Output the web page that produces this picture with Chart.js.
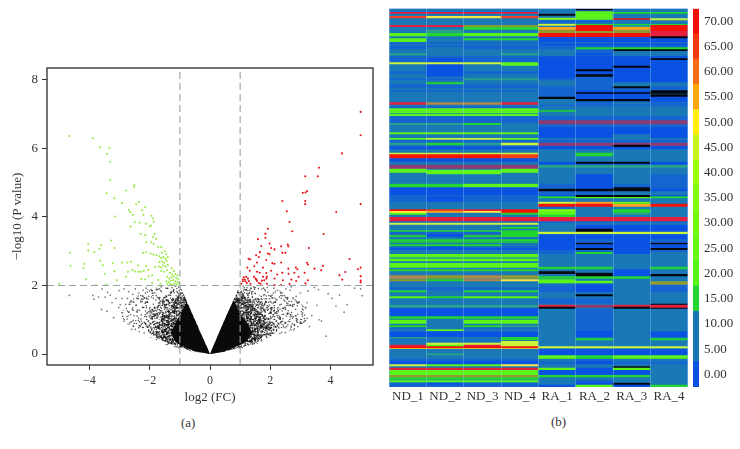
<!DOCTYPE html>
<html><head><meta charset="utf-8">
<script src="https://cdn.jsdelivr.net/npm/chart.js@4/dist/chart.umd.min.js"></script>
<style>
html,body{margin:0;padding:0;background:#fff;width:740px;height:449px;overflow:hidden}
canvas{position:absolute;filter:blur(.45px)}
.cap{position:absolute;font:13px "Liberation Serif",serif;color:#333}
</style></head><body>
<canvas id="volcano" width="380" height="405" style="left:0;top:0"></canvas>
<canvas id="heat" width="308" height="405" style="left:380px;top:0"></canvas>
<canvas id="bar" width="52" height="405" style="left:688px;top:0"></canvas>
<div class="cap" style="left:181px;top:415px">(a)</div>
<div class="cap" style="left:551px;top:414px">(b)</div>
<script>
// ---------- panel (a) volcano ----------
const xLabel = 'log2 (FC)';
const yLabel = '\u2212log10 (P value)';
const cutX = [-1, 1];
const cutY = 2;
const greenPoints = [[-4.67,6.36],[-3.89,6.29],[-3.65,6.03],[-3.34,6.0],[-3.42,5.84],[-3.32,5.61],[-3.31,5.07],[-3.43,4.69],[-3.17,4.54],[-2.79,4.77],[-2.51,4.92],[-2.52,4.87],[-2.92,4.4],[-3.15,4.01],[-2.36,4.43],[-2.45,4.37],[-2.7,4.2],[-2.65,4.14],[-2.56,4.06],[-2.25,4.19],[-2.21,4.06],[-2.15,4.28],[-1.94,4.03],[-1.89,3.95],[-1.87,3.86],[-1.95,3.75],[-2.01,3.72],[-2.64,3.72],[-2.5,3.85],[-2.34,3.83],[-2.12,3.8],[-2.3,3.5],[-2.15,3.46],[-1.89,3.41],[-1.84,3.5],[-1.79,3.36],[-1.95,3.26],[-1.87,3.21],[-2.12,3.26],[-1.73,3.12],[-3.28,3.31],[-3.17,3.09],[-4.04,3.2],[-4.04,3.02],[-3.84,2.97],[-3.67,3.07],[-3.61,3.17],[-4.65,2.95],[-4.17,2.63],[-4.2,2.51],[-4.63,2.57],[-4.12,2.18],[-3.78,2.01],[-3.45,2.03],[-5.0,2.05],[-3.64,2.72],[-3.56,2.59],[-3.23,2.65],[-3.17,2.41],[-3.5,2.34],[-2.92,2.67],[-2.74,2.67],[-3.09,2.15],[-2.79,2.25],[-2.72,2.4],[-2.62,2.69],[-2.58,2.45],[-2.5,2.41],[-2.38,2.58],[-2.38,2.4],[-2.3,2.4],[-2.2,2.42],[-2.12,2.57],[-2.05,2.45],[-2.28,2.19],[-2.15,2.17],[-2.04,2.27],[-1.92,2.3],[-1.82,2.54],[-1.92,2.07],[-2.22,2.95],[-2.12,2.97],[-1.97,2.93],[-1.88,2.9],[-1.78,2.88],[-1.62,3.12],[-1.6,2.95],[-1.5,3.0],[-1.45,2.92],[-1.68,2.85],[-1.62,2.8],[-1.55,2.83],[-1.48,2.78],[-1.4,2.82],[-1.68,2.68],[-1.6,2.7],[-1.52,2.66],[-1.44,2.72],[-1.7,2.55],[-1.62,2.52],[-1.55,2.58],[-1.47,2.55],[-1.4,2.6],[-1.62,2.42],[-1.52,2.4],[-1.42,2.44],[-1.27,2.5],[-1.2,2.42],[-1.32,2.37],[-1.25,2.32],[-1.15,2.33],[-1.08,2.3],[-1.42,2.25],[-1.35,2.2],[-1.28,2.24],[-1.2,2.26],[-1.12,2.22],[-1.05,2.18],[-1.45,2.12],[-1.38,2.1],[-1.3,2.14],[-1.22,2.16],[-1.15,2.12],[-1.08,2.1],[-1.42,2.03],[-1.33,2.05],[-1.26,2.02],[-1.18,2.05],[-1.1,2.03],[-1.03,2.06],[-1.65,2.05],[-1.72,2.16]];
const redPoints = [[5.0,7.06],[5.0,6.38],[4.38,5.85],[3.62,5.43],[3.58,5.18],[3.16,5.18],[3.22,4.75],[3.17,4.71],[3.08,4.7],[3.16,4.46],[3.16,4.37],[2.4,4.46],[5.0,4.37],[2.55,4.16],[4.19,4.14],[2.64,3.85],[2.73,3.58],[1.92,3.65],[1.84,3.51],[1.84,3.39],[3.77,3.5],[1.59,3.35],[1.98,3.22],[1.7,3.15],[2.03,3.09],[2.14,3.05],[2.36,3.14],[2.58,3.19],[2.6,3.14],[3.28,3.09],[1.66,2.97],[1.53,2.88],[1.62,2.83],[1.92,2.93],[1.98,2.91],[2.4,2.95],[2.5,2.95],[1.28,2.78],[1.33,2.76],[1.56,2.67],[1.87,2.74],[2.36,2.67],[2.07,2.65],[2.14,2.63],[3.22,2.66],[3.25,2.61],[4.63,2.77],[3.75,2.57],[3.47,2.49],[3.69,2.44],[1.47,2.56],[1.24,2.52],[1.76,2.52],[1.32,2.43],[1.56,2.4],[1.65,2.37],[2.03,2.43],[1.87,2.36],[2.6,2.49],[2.85,2.52],[2.9,2.47],[2.8,2.37],[2.61,2.34],[2.4,2.37],[2.23,2.32],[3.14,2.37],[2.94,2.25],[2.14,2.2],[2.42,2.15],[2.7,2.17],[2.86,2.13],[3.25,2.15],[3.17,2.06],[2.64,2.04],[2.14,2.01],[2.36,2.01],[4.3,2.3],[4.49,2.39],[4.39,2.17],[4.91,2.47],[5.0,2.52],[5.0,2.27],[5.0,2.14],[5.0,2.09],[1.09,2.12],[1.15,2.17],[1.2,2.25],[1.26,2.2],[1.29,2.13],[1.22,2.07],[1.09,2.17],[1.18,2.12],[1.51,2.2],[1.56,2.13],[1.62,2.07],[1.68,2.05],[1.8,2.15],[1.87,2.2],[1.76,2.25],[1.89,2.25],[1.54,2.17],[1.46,2.25],[1.04,2.05],[1.89,2.05],[1.72,2.14],[1.34,2.05],[1.12,2.24]];
const grayPoints = [[-4.67,1.71],[-3.89,1.71],[-3.85,1.6],[-3.58,1.9],[-3.4,1.8],[-3.6,1.3],[-3.42,1.25],[-3.2,1.06],[-3.48,1.66],[-3.31,1.72],[-3.12,1.62],[-3.02,1.85],[-2.92,1.62],[-2.85,1.9],[-2.7,1.82],[-2.62,1.55],[-2.56,1.74],[-2.48,1.9],[-2.36,1.78],[-2.3,1.55],[-2.22,1.86],[-2.12,1.92],[-2.58,1.3],[-2.9,1.2],[-3.03,1.36],[-2.75,1.02],[-2.7,1.22],[-2.65,.92],[-2.52,1.12],[-2.46,1.42],[-2.4,1.28],[-2.38,.98],[-2.33,.8],[-2.28,1.14],[-2.24,1.36],[-2.14,1.5],[-2.04,1.68],[-1.92,1.78],[-1.78,1.88],[-1.68,1.9],[-1.62,1.96],[-1.46,1.92],[-1.26,1.94],[-1.14,1.98],[-1.04,1.96],[-2.0,1.84],[-2.3,1.02],[-2.55,.98],[-2.42,1.64],[-2.6,.72],[-2.85,.96],[-3.25,1.5],[-2.98,1.44],[-2.8,1.45],[-3.7,1.66],[-2.74,1.62],[-2.1,1.62],[-2.23,1.6],[1.1,1.98],[1.36,1.92],[1.5,1.94],[1.78,1.92],[2.0,.6],[2.04,1.5],[2.06,1.72],[2.22,1.58],[2.24,1.86],[2.32,1.44],[2.4,1.7],[2.44,1.32],[2.48,1.54],[2.5,.62],[2.52,1.9],[2.54,.8],[2.56,1.18],[2.6,.95],[2.64,1.42],[2.68,.72],[2.72,1.1],[2.76,1.62],[2.8,.86],[2.84,1.3],[2.9,1.0],[2.95,1.52],[3.0,1.78],[3.05,1.16],[3.12,.94],[3.18,1.36],[3.25,1.84],[3.3,.8],[3.38,1.12],[3.46,1.94],[3.55,1.42],[3.62,1.0],[3.7,.96],[3.85,.52],[3.92,1.76],[4.05,1.62],[4.18,1.4],[4.3,1.72],[4.45,1.22],[4.55,1.44],[5.0,1.9],[5.05,1.7],[4.8,1.92],[3.6,1.88],[3.22,1.5],[2.66,1.86],[2.86,1.68],[2.7,1.96],[2.35,1.8],[2.12,1.92],[1.9,1.94],[2.5,1.34],[2.62,1.18],[2.74,1.4],[2.78,.7],[2.92,.8],[3.02,.9]];
// Density zones of the cloud (outlines): black core, heavy, dense, medium
const coreLeftTop = [[-1.3,.62],[-1.12,.95],[-.95,1.2],[-.78,1.52],[-.62,1.22],[-.35,.68],[0,0]];
const coreLeftBottom = [[-1.3,.62],[-1.15,.36],[-1.0,.26],[-.5,.08],[0,0]];
const coreRightTop = [[0,0],[.35,.72],[.62,1.26],[.78,1.56],[.98,1.2],[1.2,.95],[1.4,.62]];
const coreRightBottom = [[0,0],[.5,.08],[1.0,.26],[1.2,.36],[1.4,.62]];
const heavyLeftTop = [[-1.85,.72],[-1.55,1.1],[-1.25,1.45],[-1.0,1.8],[-.9,1.8],[-.5,1.0],[0,0]];
const heavyLeftBottom = [[-1.85,.72],[-1.55,.38],[-1.0,.2],[-.5,.07],[0,0]];
const heavyRightTop = [[0,0],[.5,1.02],[.9,1.82],[1.05,1.82],[1.35,1.45],[1.75,1.15],[2.05,.72]];
const heavyRightBottom = [[0,0],[.5,.07],[1.0,.2],[1.6,.38],[2.05,.72]];
const midLeftTop = [[-2.2,.9],[-1.9,1.35],[-1.55,1.65],[-1.2,1.9],[-.98,1.95],[-.5,1.0],[0,0]];
const midLeftBottom = [[-2.2,.9],[-2.0,.6],[-1.5,.32],[-1.0,.18],[-.5,.07],[0,0]];
const midRightTop = [[0,0],[.5,1.0],[.95,1.9],[1.25,1.92],[1.7,1.7],[2.1,1.35],[2.45,.95]];
const midRightBottom = [[0,0],[.5,.07],[1.0,.18],[1.5,.32],[2.1,.55],[2.45,.95]];
const outLeftTop = [[-3.0,1.15],[-2.6,1.6],[-2.1,1.88],[-1.4,2.0],[-1.0,2.0],[-.5,1.0],[0,0]];
const outLeftBottom = [[-3.0,1.15],[-2.6,.72],[-2.0,.5],[-1.5,.28],[-1.0,.15],[-.5,.05],[0,0]];
const outRightTop = [[0,0],[.5,1.0],[.98,2.0],[1.5,2.0],[2.3,1.85],[2.95,1.55],[3.4,1.1]];
const outRightBottom = [[0,0],[.5,.05],[1.0,.15],[1.5,.28],[2.1,.48],[2.8,.72],[3.4,1.1]];
const pt = p => ({x:p[0],y:p[1]});
// speckle texture standing in for the thousands of overlapping grey dots
function speckle(count,seed){
  const t=document.createElement('canvas');t.width=t.height=64;
  const c=t.getContext('2d');c.fillStyle='rgba(12,14,14,.72)';
  const h=v=>{const s=Math.sin(v)*43758.5453;return s-Math.floor(s);};
  for(let i=1;i<=count;i++){c.beginPath();c.arc(h((i+seed)*12.9898)*64,h((i+seed)*78.233)*64,.75,0,7);c.fill();}
  return c.createPattern(t,'repeat');
}
const frame = {id:'frame',afterDatasetsDraw(c){const a=c.chartArea,x=c.ctx;x.save();x.strokeStyle='#3a3a3a';x.lineWidth=1.4;x.strokeRect(a.left,a.top,a.right-a.left,a.bottom-a.top);x.restore();}};
const area = (top,bot,col,order) => [
  {data:top.map(pt),showLine:true,pointRadius:0,borderWidth:0,backgroundColor:col,fill:'+1',order},
  {data:bot.map(pt),showLine:true,pointRadius:0,borderWidth:0,backgroundColor:col,fill:false,order}];
const dash = (data) => ({data,showLine:true,pointRadius:0,borderColor:'#9aa2a2',borderWidth:1.1,borderDash:[7,4],fill:false,order:0});
const serif = '"Liberation Serif",serif';
Chart.defaults.animation = false;
Chart.defaults.devicePixelRatio = 1;
const medium=speckle(420,1), dense=speckle(1000,500), heavy=speckle(1900,2000);
new Chart(document.getElementById('volcano'),{
  type:'scatter',
  data:{datasets:[
    dash([{x:cutX[0],y:-.32},{x:cutX[0],y:8.34}]),
    dash([{x:cutX[1],y:-.32},{x:cutX[1],y:8.34}]),
    dash([{x:-5.41,y:cutY},{x:5.41,y:cutY}]),
    {data:greenPoints.map(pt),pointRadius:1,pointBorderWidth:0,backgroundColor:'#93e83c',order:1},
    {data:redPoints.map(pt),pointRadius:1.05,pointBorderWidth:0,backgroundColor:'#e8141c',order:1},
    {data:grayPoints.map(pt),pointRadius:.85,pointBorderWidth:0,backgroundColor:'rgba(30,40,40,.62)',order:2},
    ...area(coreLeftTop,coreLeftBottom,'#0a0a0a',3),
    ...area(coreRightTop,coreRightBottom,'#0a0a0a',3),
    ...area(heavyLeftTop,heavyLeftBottom,heavy,4),
    ...area(heavyRightTop,heavyRightBottom,heavy,4),
    ...area(midLeftTop,midLeftBottom,dense,5),
    ...area(midRightTop,midRightBottom,dense,5),
    ...area(outLeftTop,outLeftBottom,medium,6),
    ...area(outRightTop,outRightBottom,medium,6)
  ]},
  options:{responsive:false,layout:{padding:{top:68,right:7,bottom:0,left:0}},
    plugins:{legend:{display:false},tooltip:{enabled:false}},
    scales:{
      x:{type:'linear',min:-5.41,max:5.41,afterFit:s=>{s.height=40;},
        afterBuildTicks:s=>{s.ticks=[-4,-2,0,2,4].map(v=>({value:v}));},
        grid:{drawOnChartArea:false,tickLength:5,color:'#333'},border:{display:false},
        ticks:{padding:4,maxRotation:0,color:'#333',font:{family:serif,size:12},callback:v=>String(v).replace('-','\u2212')},
        title:{display:true,text:xLabel,color:'#333',padding:{top:3,bottom:0},font:{family:serif,size:13}}},
      y:{type:'linear',min:-.32,max:8.34,afterFit:s=>{s.width=47;},
        afterBuildTicks:s=>{s.ticks=[0,2,4,6,8].map(v=>({value:v}));},
        grid:{drawOnChartArea:false,tickLength:5,color:'#333'},border:{display:false},
        ticks:{padding:4,color:'#333',font:{family:serif,size:13}},
        title:{display:true,text:yLabel,color:'#333',padding:{top:10,bottom:0},font:{family:serif,size:13}}}
    }},
  plugins:[frame]
});

// ---------- panel (b) heat map ----------
const sampleNames = ['ND_1','ND_2','ND_3','ND_4','RA_1','RA_2','RA_3','RA_4'];
const K=-5,B=0,M=3,S=5,T=12,G=15,L=25,A=35,N=47,Y=45,W=50,O=55,H=58,F=65,C=68,R=70,P=72;
const cellColors = {[-5]:'#05070f',0:'#0a52e2',3:'#1465d0',5:'#1a78b6',12:'#27a08c',15:'#22d530',25:'#5cf51a',35:'#8cff10',45:'#ccf53a',47:'#8f9a30',50:'#ffe840',55:'#ffa020',58:'#b0884a',65:'#f2401c',68:'#e4203c',70:'#f51208',72:'#8c3c72'};
// each row: first row number, then the eight sample values
const heatRows = [
[9,S,S,S,S,S,K,S,S],[10,S,S,S,S,S,M,S,S],[11,M,M,M,M,S,L,S,S],[11.7,C,C,C,C,S,L,G,G],[13.5,S,S,S,S,K,L,S,S],[15.3,S,S,S,S,S,L,S,S],[15.7,F,W,W,F,S,L,S,S],[17.5,F,W,W,F,A,L,S,S],[18,S,S,S,S,A,L,R,Y],[19.5,M,S,S,S,S,S,M,Y],[20,S,S,S,S,M,M,S,S],[22.7,S,S,S,S,M,M,M,M],[23.5,S,S,S,S,Y,G,G,G],[24.7,C,C,N,N,Y,R,T,R],[25.5,C,C,N,N,S,R,T,R],[26.7,S,S,G,G,O,R,O,R],[29.3,S,T,S,S,N,R,N,R],[30.7,S,T,S,S,N,N,N,C],[32.7,L,G,L,L,R,R,R,C],[36,S,S,S,S,R,R,R,K],[36.7,S,S,S,S,B,B,B,K],[38,L,S,G,G,B,B,B,B],[40,L,S,S,S,B,B,B,B],[41.7,M,M,M,M,M,M,M,M],[43.5,S,S,S,S,B,B,B,B],[45,M,M,M,M,M,M,M,M],[47,M,S,M,M,M,G,G,G],[49,S,S,S,S,S,M,K,K],[50.7,S,S,S,S,S,M,S,S],[53,T,S,S,T,S,B,S,S],[55,S,S,S,S,S,M,S,S],[56,M,M,M,M,B,B,B,B],[58,M,B,M,M,B,B,B,K],[59.7,M,B,M,M,B,B,B,B],[62,Y,Y,Y,L,B,B,B,B],[64,S,B,S,L,B,B,B,B],[65.3,S,B,S,S,B,B,K,B],[67.3,S,B,S,S,B,B,B,B],[69,S,B,S,S,B,K,B,B],[71,M,B,M,M,B,B,B,B],[74,S,B,S,S,B,K,B,B],[76.3,S,S,S,S,B,M,B,B],[78,M,M,T,T,M,M,B,B],[80,S,S,S,S,S,M,B,B],[82,S,G,S,S,S,M,S,S],[84,M,M,M,M,S,M,S,S],[86,M,M,M,M,M,M,K,M],[88,S,S,S,S,M,M,M,M],[90,M,M,M,M,M,B,B,K],[92,S,S,S,S,M,K,K,K],[93.3,S,S,S,S,M,B,B,S],[94,S,S,S,S,M,B,B,K],[96.3,S,S,S,S,K,B,B,B],[98.7,S,S,S,S,S,K,K,B],[101,S,S,S,S,S,M,M,M],[102,C,H,H,C,S,M,S,M],[104.3,S,S,S,S,M,M,M,M],[106,M,M,M,M,S,S,S,S],[108,L,L,L,L,S,S,S,S],[110,L,L,L,L,G,S,S,S],[111.5,L,L,L,L,S,S,S,S],[113,M,M,M,M,S,S,S,S],[113.5,L,L,L,L,S,S,S,S],[115.7,M,M,M,M,M,M,M,M],[120,M,M,M,M,P,P,P,P],[122.7,T,T,G,S,P,P,P,P],[124,T,T,G,S,M,M,M,M],[124.7,S,S,S,S,M,M,M,M],[127,S,S,S,S,B,B,B,B],[132,L,L,L,L,B,B,B,B],[134,S,S,S,S,B,B,S,B],[137.7,L,Y,Y,L,S,S,S,S],[139.3,M,M,M,M,M,M,M,M],[142.3,T,G,T,Y,P,P,P,P],[144.3,T,G,T,Y,P,P,K,P],[145,M,M,M,M,P,P,K,P],[145.7,M,M,M,M,B,B,K,B],[146.7,B,B,B,B,B,B,B,B],[149,S,S,S,S,S,S,S,S],[152.3,Y,Y,Y,Y,S,G,S,S],[154,R,R,R,F,S,G,S,S],[156,R,R,R,F,S,S,S,S],[158,B,B,B,B,S,S,S,S],[161.5,S,S,S,S,B,K,K,B],[163.3,S,S,S,S,B,B,B,B],[164.5,P,P,P,P,T,T,T,T],[167.3,P,P,P,P,S,S,S,S],[168.3,L,S,S,L,S,S,S,S],[169.3,L,L,L,L,S,S,S,S],[172.3,S,L,L,S,S,S,S,S],[174,S,S,S,S,S,B,S,M],[183.5,G,G,L,L,M,B,M,M],[187,B,B,B,B,M,B,K,M],[188.5,B,B,B,B,K,K,K,B],[191,B,B,B,B,M,M,S,S],[194.7,M,M,M,M,B,K,K,B],[196,M,B,M,M,G,K,K,G],[196.7,M,B,M,M,G,L,L,G],[198,M,B,M,M,S,S,S,S],[201.5,S,S,S,S,Y,O,L,S],[203.5,S,S,S,S,R,R,O,R],[206.3,S,S,S,S,M,S,S,S],[209,R,F,C,R,A,S,G,S],[210.7,W,O,W,R,L,S,G,S],[212.3,L,S,S,G,L,S,T,S],[214.3,S,S,S,S,G,S,S,S],[216.7,C,C,C,C,C,C,C,C],[221,M,M,M,M,M,M,M,M],[222.3,Y,Y,Y,Y,S,S,S,S],[224.3,S,S,S,S,S,B,B,B],[226.3,S,S,S,G,S,B,B,B],[228.3,S,S,S,S,S,K,B,B],[230,G,G,G,G,S,K,B,B],[231.5,M,M,M,G,Y,Y,Y,Y],[233.7,S,B,S,G,M,M,M,M],[235,G,B,G,G,B,B,B,B],[236.7,S,S,S,S,B,B,B,B],[239,G,G,G,G,B,M,B,M],[240.7,S,S,S,S,B,M,B,M],[241,G,G,G,G,B,M,B,M],[242.5,S,S,S,S,B,K,B,K],[244,G,G,G,S,B,B,B,B],[246,M,B,M,M,B,B,B,B],[247.7,B,B,B,B,B,K,B,K],[249.7,S,S,S,S,M,M,B,M],[251.7,S,S,S,S,M,G,B,S],[253.7,L,L,L,L,S,S,S,S],[257,T,T,T,T,S,S,S,S],[258.3,L,L,L,L,S,S,S,S],[261,S,S,S,S,S,S,S,S],[262.7,L,L,L,L,S,S,S,S],[266.3,L,L,L,L,G,G,S,G],[267.5,S,S,S,S,G,G,S,G],[269,G,G,G,G,S,S,B,S],[271,S,S,S,S,K,S,B,S],[272.5,S,S,S,S,K,K,B,S],[273.7,S,S,S,S,S,K,B,K],[275,H,N,H,N,S,K,B,K],[276,H,N,H,N,G,G,G,S],[278.5,S,S,S,S,S,S,S,S],[279,N,G,H,W,L,S,S,S],[280.3,N,G,H,W,L,L,S,S],[281,S,S,S,S,L,L,S,N],[283,S,S,S,S,S,M,S,N],[284.3,S,S,S,S,M,B,S,M],[287,M,M,M,M,M,B,S,M],[290,G,S,G,G,M,B,S,M],[292,S,S,S,S,S,S,S,S],[294,S,S,S,S,S,K,S,S],[296,L,G,L,L,S,S,S,S],[298,S,S,S,S,M,M,S,S],[303.3,S,S,S,S,S,S,S,K],[304.5,T,T,T,T,C,P,C,C],[306.3,T,T,T,T,K,P,K,C],[307.3,B,B,B,B,K,S,K,K],[308.3,B,B,B,B,S,M,S,S],[316,G,G,G,G,S,M,S,S],[318.3,S,S,S,S,S,M,S,S],[319.3,L,S,L,L,S,M,S,S],[323.3,S,S,S,S,S,M,S,S],[325,G,S,G,T,S,M,S,S],[327,M,S,M,M,S,M,S,S],[329,S,L,S,S,S,M,S,S],[330.7,M,M,M,M,S,B,S,M],[331.7,B,B,B,B,S,B,S,B],[336.7,T,S,S,G,S,S,S,S],[338,S,S,S,G,S,G,S,G],[340,M,M,M,M,S,S,S,S],[340.7,S,S,S,Y,S,S,S,S],[342.3,S,Y,Y,Y,S,S,S,S],[344.3,C,L,C,Y,S,S,S,S],[346,R,R,R,R,Y,Y,Y,Y],[348,Y,Y,Y,Y,S,S,S,S],[348.7,S,S,S,S,B,B,B,B],[353,S,T,S,S,B,B,B,B],[355,S,S,S,S,L,G,L,L],[358.3,M,M,M,M,S,M,S,S],[361,B,B,B,B,M,B,M,M],[364,Y,L,L,W,S,S,S,S],[366,S,S,S,S,S,S,K,S],[367.3,C,C,C,C,L,B,L,S],[369.7,L,L,L,L,B,B,B,S],[374.7,N,N,N,N,G,G,G,S],[377,G,G,G,G,S,S,S,S],[379.3,S,S,S,S,S,M,S,S],[380,L,L,L,L,S,M,S,S],[382,S,S,S,S,S,B,S,S],[382.3,M,B,M,M,S,B,K,S],[384.3,M,M,M,M,B,L,B,G]
];
const rowEnd = 387;
const heatDatasets = heatRows.map((r,i)=>{
  const end = i+1<heatRows.length ? heatRows[i+1][0] : rowEnd;
  return {data:r.slice(1).map(()=>[r[0],end]),
    backgroundColor:r.slice(1).map(v=>cellColors[v]),
    borderWidth:0,barPercentage:1,categoryPercentage:1,grouped:false};
});
const heatBack = {id:'heatBack',beforeDatasetsDraw(c){const a=c.chartArea;c.ctx.save();c.ctx.fillStyle='#1465d0';c.ctx.fillRect(a.left,a.top,a.right-a.left,a.bottom-a.top);c.ctx.restore();}};
new Chart(document.getElementById('heat'),{
  type:'bar',
  data:{labels:sampleNames,datasets:heatDatasets},
  options:{responsive:false,layout:{padding:{left:9.3,right:.3,top:8.7,bottom:0}},
    plugins:{legend:{display:false},tooltip:{enabled:false}},
    scales:{
      x:{afterFit:s=>{s.height=18;},grid:{display:true,offset:true,drawTicks:false,color:'rgba(170,220,255,.32)',z:1},border:{display:false},
         ticks:{padding:2,maxRotation:0,autoSkip:false,color:'#333',font:{family:serif,size:13}}},
      y:{display:false,reverse:true,min:8.7,max:rowEnd}
    }},
  plugins:[heatBack]
});

// ---------- colour bar ----------
const legendLevels = [0,5,10,15,20,25,30,35,40,45,50,55,60,65,70];
const legendColors = ['#0a52e2','#1a78b6','#1a78b6','#22d530','#55f51a','#66f814','#72fb10','#80ff08','#9cff00','#ccf520','#ffee10','#ffa810','#f56c14','#f4380e','#f01208'];
new Chart(document.getElementById('bar'),{
  type:'bar',
  data:{labels:[''],datasets:legendLevels.map((v,i)=>({data:[[v-2.5,v+2.5]],backgroundColor:legendColors[i],borderWidth:0,barPercentage:1,categoryPercentage:1,grouped:false}))},
  options:{responsive:false,layout:{padding:{left:5,right:0,top:8.7,bottom:0}},
    plugins:{legend:{display:false},tooltip:{enabled:false}},
    scales:{
      x:{display:true,afterFit:s=>{s.height=18;},grid:{display:false},border:{display:false},ticks:{display:false}},
      y:{position:'right',min:-2.5,max:72.5,afterFit:s=>{s.width=41;s.paddingTop=0;s.paddingBottom=0;},
         afterBuildTicks:s=>{s.ticks=legendLevels.map(v=>({value:v}));},
         grid:{display:false,drawTicks:false,tickLength:0},border:{display:false},
         ticks:{autoSkip:false,padding:5,color:'#333',font:{family:serif,size:13},callback:v=>v.toFixed(2)}}
    }}
});
</script>
</body></html>
